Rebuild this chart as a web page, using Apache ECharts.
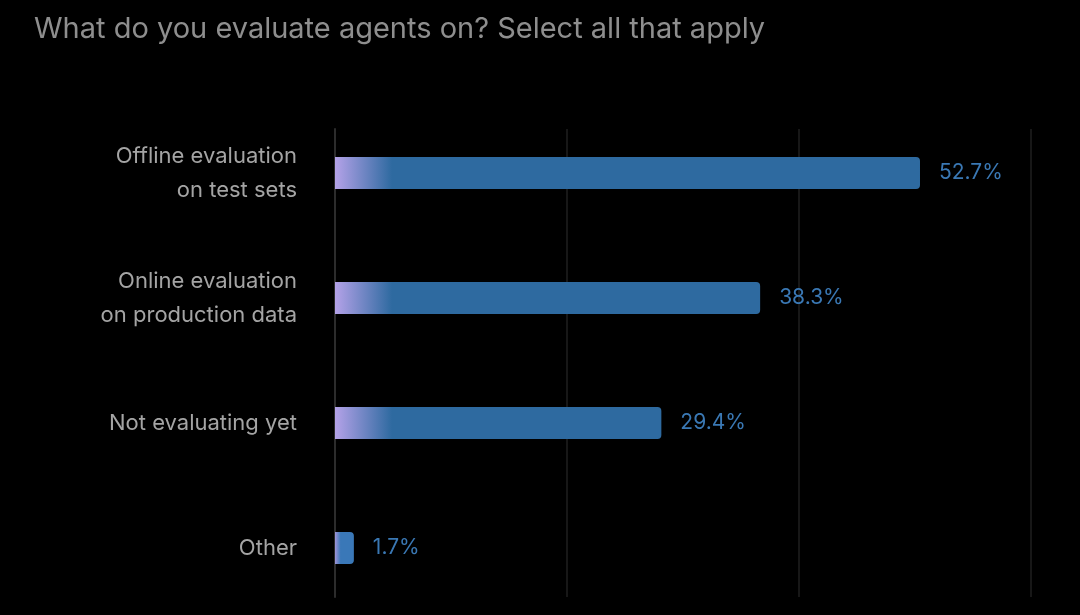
<!DOCTYPE html>
<html><head><meta charset="utf-8">
<script src="https://cdn.jsdelivr.net/npm/echarts@6/dist/echarts.min.js"></script>
<style>html,body{margin:0;padding:0;background:#000;}#c{width:1080px;height:615px;}</style>
</head><body><div id="c"></div>
<script>
const titleText = 'What do you evaluate agents on? Select all that apply';
const categories = ['Offline evaluation\non test sets', 'Online evaluation\non production data', 'Not evaluating yet', 'Other'];
const values = [52.7, 38.3, 29.4, 1.7];
const axisMax = 62.7;
const gridInterval = 20.9;

const chart = echarts.init(document.getElementById('c'));
const wideGrad = new echarts.graphic.LinearGradient(335, 0, 392, 0, [
  {offset: 0, color: '#b4a2e8'},
  {offset: 1, color: '#2e6aa0'}
], true);
const narrowGrad = new echarts.graphic.LinearGradient(0, 0, 1, 0, [
  {offset: 0, color: '#9f94d8'},
  {offset: 0.3, color: '#3a78b8'},
  {offset: 1, color: '#3a78b8'}
]);
const barData = values.map(v => ({
  value: v,
  itemStyle: {color: v < 5 ? narrowGrad : wideGrad}
}));
chart.setOption({
  backgroundColor: '#000',
  title: {
    text: titleText, left: 29, top: 10,
    textStyle: {color: '#8e8e8e', fontSize: 29, fontWeight: 'normal', fontFamily: 'Inter'}
  },
  grid: [
    {left: 335, right: 49, top: 129, bottom: 18},
    {left: 335, right: 49, top: 110.5, bottom: 4.5}
  ],
  xAxis: [
    {gridIndex: 0, type: 'value', min: 0, max: axisMax, interval: gridInterval,
     axisLabel: {show: false}, axisLine: {show: false}, axisTick: {show: false},
     splitLine: {show: true, lineStyle: {color: '#171717', width: 2}}},
    {gridIndex: 1, type: 'value', min: 0, max: axisMax, interval: gridInterval, show: false}
  ],
  yAxis: [
    {gridIndex: 0, type: 'value', min: 0, max: 1, show: true,
     axisLabel: {show: false}, axisTick: {show: false}, splitLine: {show: false},
     axisLine: {show: true, lineStyle: {color: '#2c2c2c', width: 2}}},
    {gridIndex: 1, type: 'category', data: categories, inverse: true,
     axisLine: {show: false}, axisTick: {show: false}, splitLine: {show: false},
     axisLabel: {color: '#a4a4a4', fontSize: 22, fontFamily: 'Inter', margin: 38, lineHeight: 34, align: 'right',
       padding: [4, 0, 0, 0]}}
  ],
  series: [{
    type: 'bar', xAxisIndex: 1, yAxisIndex: 1,
    data: barData, barWidth: 32,
    itemStyle: {borderRadius: [0, 4, 4, 0]},
    label: {show: true, position: 'right', distance: 19, color: '#3a78b4', fontSize: 21, fontFamily: 'Inter',
      formatter: p => p.value.toFixed(1) + '%'}
  }]
});
</script></body></html>
